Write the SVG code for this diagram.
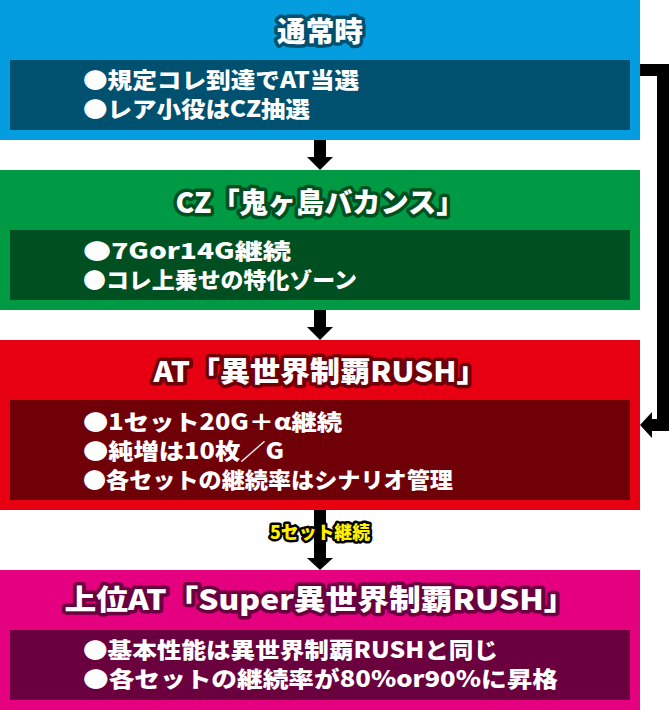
<svg xmlns="http://www.w3.org/2000/svg" width="670" height="710" viewBox="0 0 670 710">
<style>
.t{font-family:"Noto Sans CJK JP","Noto Sans",sans-serif;font-weight:900;font-size:28px;fill:#fff;text-anchor:middle;paint-order:stroke;stroke-width:7;stroke-linejoin:round}
.b{font-family:"Noto Sans CJK JP","Noto Sans",sans-serif;font-weight:900;font-size:22px;fill:#fff}
.lbl{font-family:"Noto Sans CJK JP","Noto Sans",sans-serif;font-weight:900;font-size:18px;fill:#fff100;text-anchor:middle;paint-order:stroke;stroke:#000;stroke-width:5;stroke-linejoin:round}
</style>
<rect width="670" height="710" fill="#fff"/>
<g id="node-normal">
<rect x="0" y="0" width="640" height="140" fill="#049ee0"/>
<rect x="10" y="60" width="620" height="70" fill="#00506f"/>
<text class="t" x="320" y="42" stroke="#00506f" textLength="86" lengthAdjust="spacingAndGlyphs">通常時</text>
<text class="b" x="83" y="88" textLength="276" lengthAdjust="spacingAndGlyphs">●規定コレ到達でAT当選</text>
<text class="b" x="83" y="117" textLength="227" lengthAdjust="spacingAndGlyphs">●レア小役はCZ抽選</text>
</g>
<g id="node-cz">
<rect x="0" y="170" width="640" height="140" fill="#009944"/>
<rect x="10" y="230" width="620" height="70" fill="#004f21"/>
<text class="t" x="320" y="213" stroke="#004f21" textLength="289" lengthAdjust="spacingAndGlyphs">CZ「鬼ヶ島バカンス」</text>
<text class="b" x="83" y="259" textLength="208" lengthAdjust="spacingAndGlyphs">●7Gor14G継続</text>
<text class="b" x="83" y="288" textLength="274" lengthAdjust="spacingAndGlyphs">●コレ上乗せの特化ゾーン</text>
</g>
<g id="node-at">
<rect x="0" y="340" width="640" height="170" fill="#e60012"/>
<rect x="10" y="400" width="620" height="100" fill="#700008"/>
<text class="t" x="320" y="382" stroke="#700008" textLength="333" lengthAdjust="spacingAndGlyphs">AT「異世界制覇RUSH」</text>
<text class="b" x="83" y="430" textLength="259" lengthAdjust="spacingAndGlyphs">●1セット20G＋α継続</text>
<text class="b" x="83" y="459" textLength="201" lengthAdjust="spacingAndGlyphs">●純増は10枚／G</text>
<text class="b" x="83" y="488" textLength="370" lengthAdjust="spacingAndGlyphs">●各セットの継続率はシナリオ管理</text>
</g>
<g id="node-super">
<rect x="0" y="570" width="640" height="140" fill="#e4007f"/>
<rect x="10" y="630" width="620" height="70" fill="#6b003f"/>
<text class="t" x="320" y="610" stroke="#6b003f" textLength="511" lengthAdjust="spacingAndGlyphs">上位AT「Super異世界制覇RUSH」</text>
<text class="b" x="83" y="658" textLength="415" lengthAdjust="spacingAndGlyphs">●基本性能は異世界制覇RUSHと同じ</text>
<text class="b" x="83" y="687" textLength="475" lengthAdjust="spacingAndGlyphs">●各セットの継続率が80%or90%に昇格</text>
</g>
<g id="connectors" fill="#000">
<rect x="314" y="140" width="12" height="18"/>
<polygon points="307,157 333,157 320,170"/>
<rect x="314" y="310" width="12" height="18"/>
<polygon points="307,327 333,327 320,340"/>
<rect x="314" y="510" width="12" height="49"/>
<polygon points="307,558 333,558 320,570"/>
<path d="M640,70 H663 V425 H651" fill="none" stroke="#000" stroke-width="12"/>
<polygon points="640,425 652,412 652,438"/>
<text class="lbl" x="320" y="539" textLength="100" lengthAdjust="spacingAndGlyphs">5セット継続</text>
</g>
</svg>
